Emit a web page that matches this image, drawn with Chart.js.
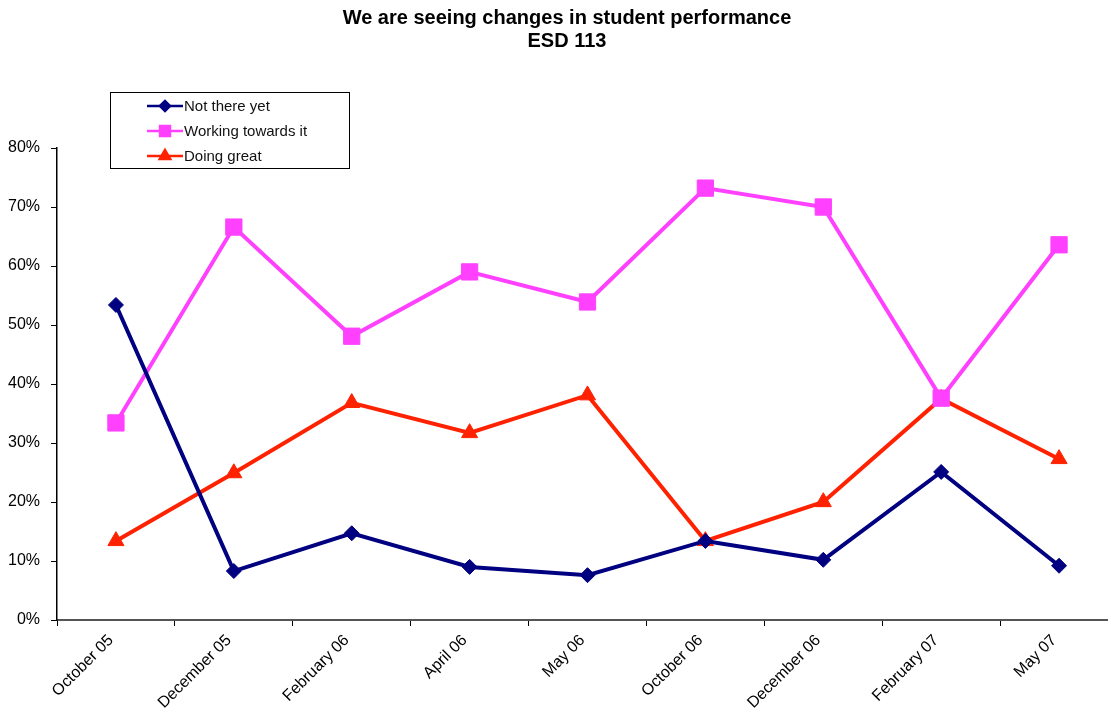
<!DOCTYPE html>
<html><head><meta charset="utf-8">
<script src="https://cdn.jsdelivr.net/npm/chart.js@4/dist/chart.umd.min.js"></script>
<style>html,body{margin:0;padding:0;background:#fff;overflow:hidden}</style></head>
<body><canvas id="c" width="1134" height="719"></canvas>
<script>
const categories = ['October 05','December 05','February 06','April 06','May 06','October 06','December 06','February 07','May 07'];
const notThereYet = [53.4, 8.3, 14.7, 9.0, 7.6, 13.4, 10.2, 25.1, 9.2];
const workingTowardsIt = [33.4, 66.6, 48.1, 59.0, 53.9, 73.2, 70.0, 37.6, 63.6];
const doingGreat = [13.4, 24.9, 36.8, 31.7, 38.1, 13.4, 20.0, 37.5, 27.3];
const seriesNames = ['Not there yet','Working towards it','Doing great'];
const titleLines = ['We are seeing changes in student performance','ESD 113'];

const FONT = "'Liberation Sans', Arial, sans-serif";

const boxLegend = {
  id: 'boxLegend',
  afterLayout(chart) {
    if (chart.titleBlock) { chart.titleBlock.left = 16; chart.titleBlock.right = 1118; }
  },
  afterDraw(chart) {
    const ctx = chart.ctx;
    ctx.save();
    const x = 110.5, y = 92.5, w = 239, h = 76;
    ctx.fillStyle = '#fff'; ctx.fillRect(x, y, w, h);
    ctx.strokeStyle = '#000'; ctx.lineWidth = 1; ctx.strokeRect(x, y, w, h);
    chart.data.datasets.forEach((ds, i) => {
      const cy = 106 + i * 25;
      ctx.strokeStyle = ds.borderColor; ctx.lineWidth = 2.5;
      ctx.beginPath(); ctx.moveTo(147, cy); ctx.lineTo(183, cy); ctx.stroke();
      ctx.fillStyle = ds.borderColor; ctx.strokeStyle = ds.borderColor;
      Chart.helpers.drawPoint(ctx, {pointStyle: ds.pointStyle, radius: ds.legendRadius, borderWidth: 1, rotation: 0}, 165, cy);
      ctx.fillStyle = '#111';
      ctx.font = '15px ' + FONT;
      ctx.textBaseline = 'middle'; ctx.textAlign = 'left';
      ctx.fillText(ds.label, 184, cy + 1);
    });
    ctx.restore();
  }
};

new Chart(document.getElementById('c'), {
  type: 'line',
  data: {
    labels: categories,
    datasets: [
      {label: seriesNames[0], data: notThereYet, borderColor: '#000080', backgroundColor: '#000080',
       pointStyle: 'rectRot', pointRadius: 7.5, legendRadius: 5, borderWidth: 4, pointBorderWidth: 1},
      {label: seriesNames[1], data: workingTowardsIt, borderColor: '#FF40FF', backgroundColor: '#FF40FF',
       pointStyle: 'rect', pointRadius: 11.5, legendRadius: 7, borderWidth: 4, pointBorderWidth: 1},
      {label: seriesNames[2], data: doingGreat, borderColor: '#FF2200', backgroundColor: '#FF2200',
       pointStyle: 'triangle', pointRadius: 9.3, legendRadius: 6, borderWidth: 4, pointBorderWidth: 1}
    ]
  },
  options: {
    responsive: false,
    animation: false,
    layout: {padding: {left: 0, right: 16, top: 0, bottom: 0}},
    plugins: {
      legend: {display: false},
      tooltip: {enabled: false},
      title: {display: true, text: titleLines, color: '#000',
        font: {family: FONT, size: 20, weight: 'bold', lineHeight: 1.15},
        padding: {top: 7, bottom: 95}}
    },
    elements: {line: {tension: 0}},
    scales: {
      x: {
        offset: true,
        afterFit: s => { s.height = 99; },
        grid: {display: true, offset: true, drawOnChartArea: false, drawTicks: true, tickLength: 6, color: '#000'},
        border: {display: true, color: '#555', width: 2},
        ticks: {minRotation: 45, maxRotation: 45, color: '#000', font: {family: FONT, size: 16}, padding: 5, labelOffset: -5},
      },
      y: {
        min: 0, max: 80,
        afterFit: s => { s.width = 57; },
        grid: {display: true, drawOnChartArea: false, drawTicks: true, tickLength: 6, color: '#000'},
        border: {display: true, color: '#000', width: 1.5},
        ticks: {stepSize: 10, color: '#000', font: {family: FONT, size: 16}, padding: 11,
          callback: v => v + '%'}
      }
    }
  },
  plugins: [boxLegend]
});
</script></body></html>
